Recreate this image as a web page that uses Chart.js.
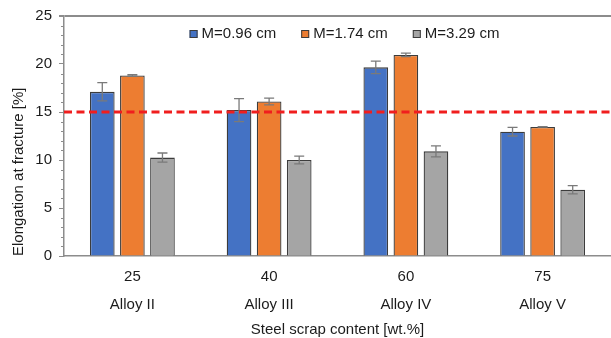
<!DOCTYPE html>
<html>
<head>
<meta charset="utf-8">
<script src="https://cdn.jsdelivr.net/npm/chart.js@4.4.1/dist/chart.umd.min.js"></script>
<style>
  html, body { margin: 0; padding: 0; background: #ffffff; }
  #wrap { width: 611px; height: 338px; position: relative; }
</style>
</head>
<body>
<div id="wrap"><canvas id="chart"></canvas></div>
<script>
// Steel scrap content per alloy (x categories)
const scrapContent = ['25', '40', '60', '75'];
const alloyNames = ['Alloy II', 'Alloy III', 'Alloy IV', 'Alloy V'];

// Series labels (modulus M)
const seriesLabels = ['M=0.96 cm', 'M=1.74 cm', 'M=3.29 cm'];

// Elongation at fracture [%] and standard deviations
const elongM096 = [17.1, 15.2, 19.65, 12.95];
const errM096 = [0.95, 1.2, 0.65, 0.45];
const elongM174 = [18.8, 16.1, 20.95, 13.45];
const errM174 = [0.08, 0.35, 0.18, 0.03];
const elongM329 = [10.25, 10.0, 10.9, 6.9];
const errM329 = [0.48, 0.4, 0.58, 0.43];

// Reference elongation level drawn as dashed line
const referenceElongation = 15;

// Y axis range and tick spacing
const yMin = 0, yMax = 25, yMajorStep = 5, yMinorStep = 1;

const FONT = "'Liberation Sans', Arial, Helvetica, sans-serif";
const TEXT = '#1c1c1c';
const AXIS = '#8c8c8c';

const colors = ['#4472C4', '#ED7D31', '#A5A5A5'];
const values = [elongM096, elongM174, elongM329];
const errors = [errM096, errM174, errM329];

const datasets = seriesLabels.map((label, i) => ({
  label,
  data: values[i],
  errors: errors[i],
  backgroundColor: colors[i],
  borderColor: '#3c3c3c',
  borderWidth: 1.3,
  categoryPercentage: 0.66,
  barPercentage: 0.82
}));

// Error bars with caps, from each dataset's errors array
const errorBarPlugin = {
  id: 'errorBars',
  afterDatasetsDraw(chart) {
    const { ctx } = chart;
    const y = chart.scales.y;
    ctx.save();
    ctx.strokeStyle = '#7a7a7a';
    ctx.lineWidth = 1.3;
    chart.data.datasets.forEach((ds, di) => {
      const meta = chart.getDatasetMeta(di);
      meta.data.forEach((bar, i) => {
        const v = ds.data[i], e = ds.errors[i];
        if (!e) return;
        const x = bar.x;
        const top = y.getPixelForValue(v + e);
        const bot = y.getPixelForValue(v - e);
        const cap = 5;
        ctx.beginPath();
        ctx.moveTo(x, top); ctx.lineTo(x, bot);
        ctx.moveTo(x - cap, top); ctx.lineTo(x + cap, top);
        ctx.moveTo(x - cap, bot); ctx.lineTo(x + cap, bot);
        ctx.stroke();
      });
    });
    ctx.restore();
  }
};

// Dashed horizontal reference line across the plot
const referenceLinePlugin = {
  id: 'referenceLine',
  afterDatasetsDraw(chart) {
    const { ctx, chartArea } = chart;
    const py = chart.scales.y.getPixelForValue(referenceElongation);
    ctx.save();
    ctx.strokeStyle = '#f01e1e';
    ctx.lineWidth = 3;
    ctx.setLineDash([8, 4.5]);
    ctx.beginPath();
    ctx.moveTo(chartArea.left, py);
    ctx.lineTo(chartArea.right, py);
    ctx.stroke();
    ctx.restore();
  }
};

// Short minor tick marks on the y axis
const minorTickPlugin = {
  id: 'minorTicks',
  afterDraw(chart) {
    const { ctx } = chart;
    const y = chart.scales.y;
    ctx.save();
    ctx.strokeStyle = AXIS;
    ctx.lineWidth = 1;
    y.ticks.forEach(t => {
      if (t.value % yMajorStep === 0) return;
      const py = Math.round(y.getPixelForValue(t.value)) + 0.5;
      ctx.beginPath();
      ctx.moveTo(y.right - 3, py);
      ctx.lineTo(y.right, py);
      ctx.stroke();
    });
    ctx.restore();
  }
};

// Legend row inside the plot area
const legendRowPlugin = {
  id: 'legendRow',
  afterDraw(chart) {
    const { ctx, chartArea } = chart;
    const rowY = chartArea.top + 18;
    const box = 8, gapText = 4, gapItem = 25;
    ctx.save();
    ctx.font = `15px ${FONT}`;
    ctx.textBaseline = 'middle';
    const widths = chart.data.datasets.map(ds => box + gapText + ctx.measureText(ds.label).width);
    const total = widths.reduce((a, b) => a + b, 0) + gapItem * (widths.length - 1);
    let x = (chartArea.left + chartArea.right) / 2 - total / 2 + 7;
    chart.data.datasets.forEach((ds, i) => {
      ctx.fillStyle = ds.backgroundColor;
      ctx.strokeStyle = '#3c3c3c';
      ctx.lineWidth = 1;
      ctx.fillRect(x, rowY - box / 2, box, box);
      ctx.strokeRect(x + 0.5, rowY - box / 2 + 0.5, box - 1, box - 1);
      ctx.fillStyle = TEXT;
      ctx.fillText(ds.label, x + box + gapText, rowY);
      x += widths[i] + gapItem;
    });
    ctx.restore();
  }
};

new Chart(document.getElementById('chart'), {
  type: 'bar',
  data: {
    labels: scrapContent.map((c, i) => [c, alloyNames[i]]),
    datasets
  },
  options: {
    responsive: true,
    maintainAspectRatio: false,
    animation: false,
    layout: { padding: { top: 15, right: 0, bottom: 0, left: 0 } },
    plugins: {
      legend: { display: false },
      tooltip: { enabled: false }
    },
    scales: {
      x: {
        grid: { display: false, drawTicks: false, tickLength: 0 },
        border: { display: true, color: AXIS, width: 1.5 },
        ticks: {
          color: TEXT,
          padding: 7,
          font: { family: FONT, size: 15, lineHeight: 1.87 },
          maxRotation: 0
        },
        title: {
          display: true,
          text: 'Steel scrap content [wt.%]',
          color: TEXT,
          font: { family: FONT, size: 15 },
          padding: { top: 0, bottom: -1 }
        },
        afterFit(scale) { scale.height = 82; }
      },
      y: {
        min: yMin,
        max: yMax,
        grid: {
          drawOnChartArea: true,
          drawTicks: true,
          tickLength: 5,
          lineWidth: ctx => (ctx.tick && ctx.tick.value === yMax ? 2 : 1),
          color: ctx => (ctx.tick && ctx.tick.value === yMax ? AXIS : 'rgba(0,0,0,0)'),
          tickColor: ctx => (ctx.tick && ctx.tick.value % yMajorStep === 0 ? AXIS : 'rgba(0,0,0,0)')
        },
        border: { display: true, color: AXIS, width: 1.5 },
        ticks: {
          stepSize: yMinorStep,
          autoSkip: false,
          padding: 7,
          color: TEXT,
          font: { family: FONT, size: 15 },
          callback: v => (v % yMajorStep === 0 ? String(v) : '')
        },
        title: {
          display: true,
          text: 'Elongation at fracture [%]',
          align: 'start',
          color: TEXT,
          font: { family: FONT, size: 15 },
          padding: { top: 10, bottom: 0 }
        },
        afterFit(scale) { scale.width = 64; }
      }
    }
  },
  plugins: [errorBarPlugin, referenceLinePlugin, minorTickPlugin, legendRowPlugin]
});
</script>
</body>
</html>
